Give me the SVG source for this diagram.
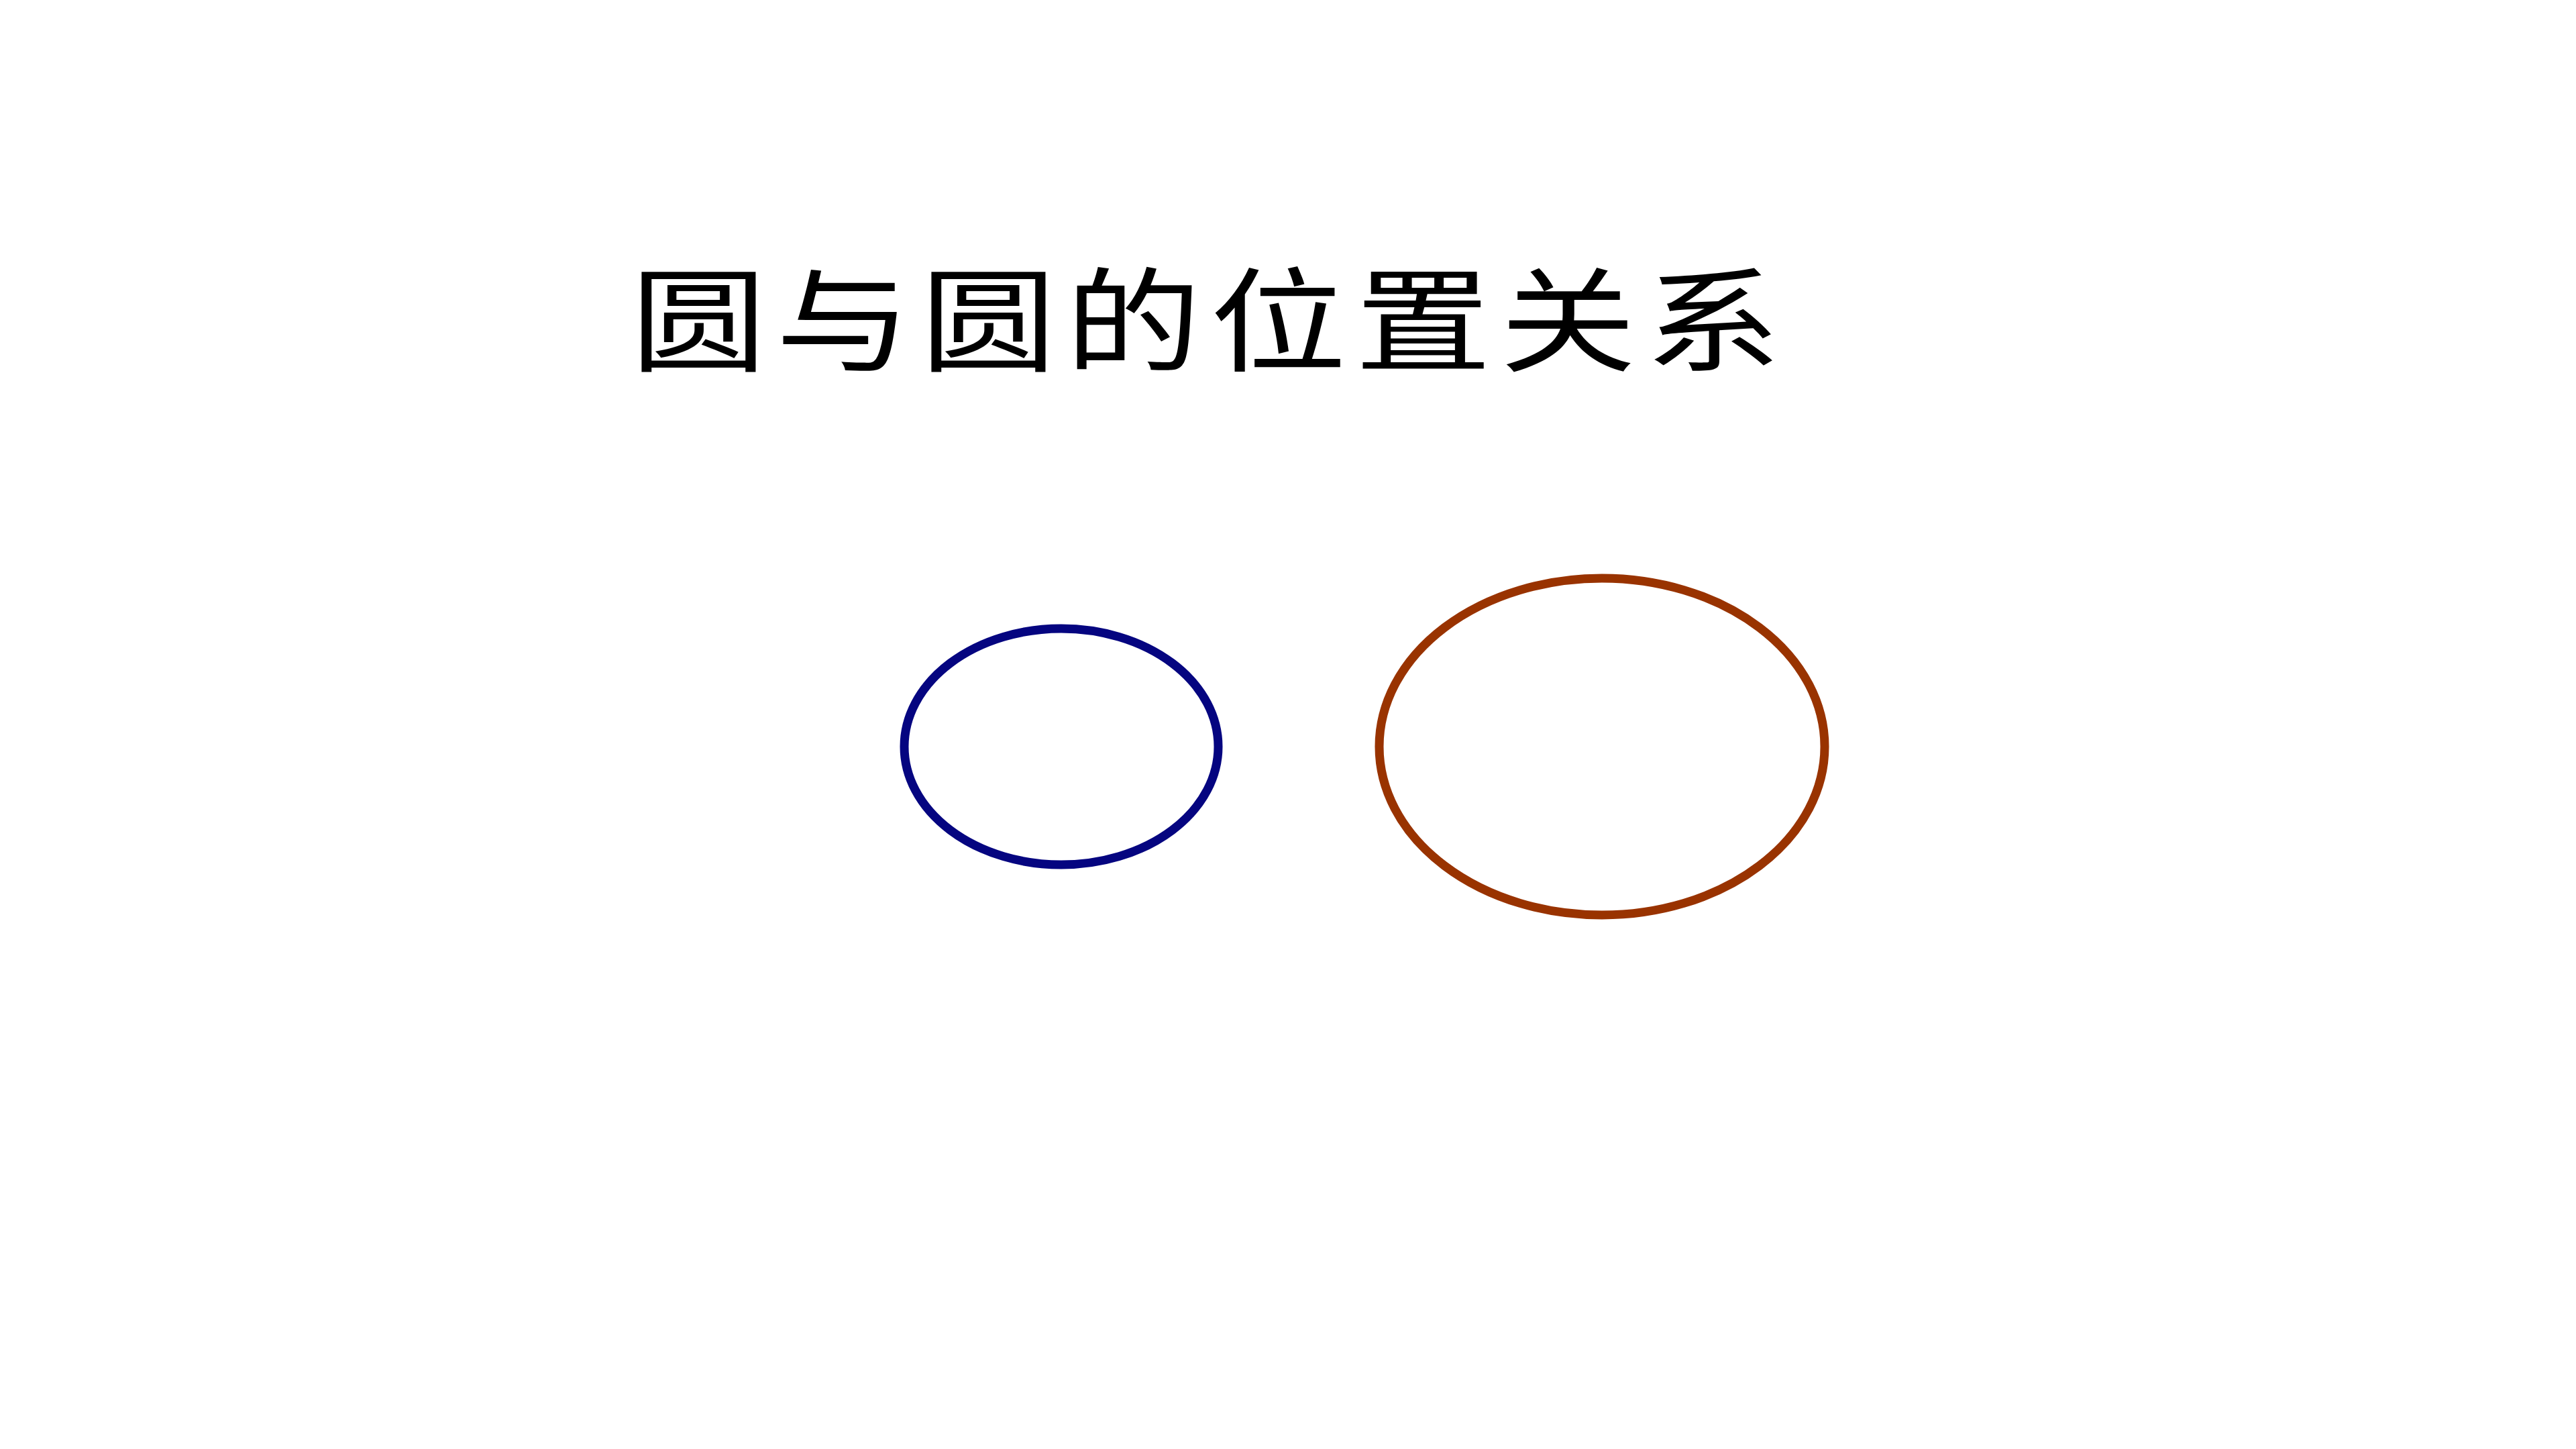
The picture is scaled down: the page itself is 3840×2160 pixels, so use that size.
<svg xmlns="http://www.w3.org/2000/svg" width="3840" height="2160" viewBox="0 0 3840 2160">
<style>
.title{font-family:"Noto Sans CJK SC","Noto Sans CJK TC",sans-serif;font-size:169px;fill:#000}
.ring{fill:none;stroke-width:13}
</style>
<rect x="0" y="0" width="3840" height="2160" fill="#fff"/>
<g id="title">
<text class="title" transform="translate(940,541) scale(1.2,1)" letter-spacing="11">圆与圆的位置关系</text>
</g>
<g id="circle-small">
<ellipse class="ring" cx="1582" cy="1113" rx="234" ry="176" stroke="#050580"/>
</g>
<g id="circle-large">
<ellipse class="ring" cx="2388" cy="1113" rx="332" ry="251" stroke="#993300"/>
</g>
<g id="connectors"></g>
</svg>
